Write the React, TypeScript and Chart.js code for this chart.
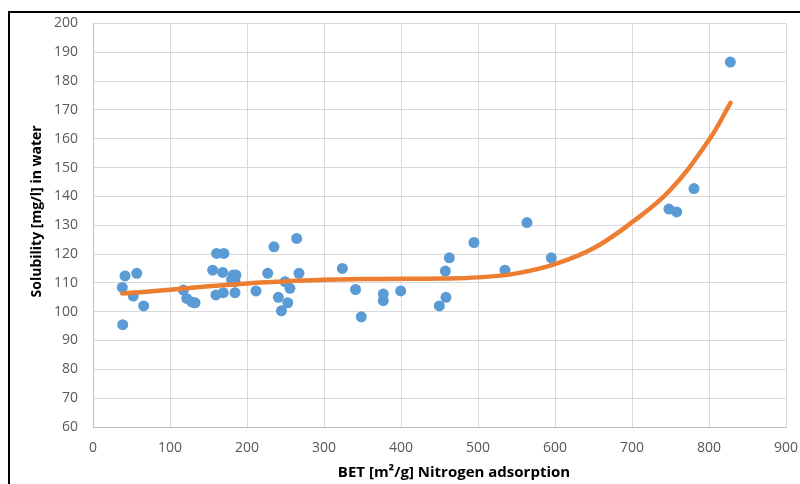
import React, { useEffect, useRef } from "react";
import { Chart, registerables } from "chart.js";

Chart.register(...registerables);

// BET surface area [m²/g] of each sample
const betValues = [
  38.6, 38, 41.6, 52.3, 56.8, 65.8, 117.3, 121.7, 128.2, 132.5,
  155.4, 160.6, 170, 168.4, 159.7, 169.2, 180, 182, 185.7, 184.4,
  184.4, 211.7, 226.9, 235, 240.7, 244.7, 249.4, 252.9, 255.8, 264.5,
  267.5, 323.8, 341, 348.4, 377, 377, 399.6, 449.8, 458.4, 457.6,
  462.8, 494.8, 535, 563.6, 595.2, 748, 758, 780.5, 827.7,
];
// Solubility [mg/l] in water of each sample
const solubilityValues = [
  95.5, 108.4, 112.4, 105.4, 113.3, 102, 107.5, 104.6, 103.4, 103.1,
  114.4, 120.2, 120.2, 113.6, 105.8, 106.6, 111.2, 112.7, 112.7, 110.4,
  106.6, 107.2, 113.3, 122.5, 105, 100.3, 110.4, 103.1, 108.1, 125.4,
  113.3, 115, 107.7, 98.2, 106.1, 103.8, 107.2, 102, 105, 114.1,
  118.7, 124, 114.4, 130.9, 118.7, 135.6, 134.6, 142.7, 186.6,
];
// Trend line
const trendX = [38, 100, 150, 200, 250, 300, 350, 400, 450, 500, 550, 600, 650, 700, 750, 800, 828];
const trendY = [106.3, 107.6, 108.8, 109.8, 110.5, 111.1, 111.3, 111.4, 111.5, 111.9, 113.3, 116.5, 122, 131, 142.3, 159.6, 172.4];

const xTicks = [0, 100, 200, 300, 400, 500, 600, 700, 800, 900];
const yTicks = [60, 70, 80, 90, 100, 110, 120, 130, 140, 150, 160, 170, 180, 190, 200];

const xTitle = "BET [m²/g] Nitrogen adsorption";
const yTitle = "Solubility [mg/l] in water";

const FONT = "'Open Sans', sans-serif";

const titlePlugin = {
  id: "axisTitlesCustom",
  afterDraw(chart: any) {
    const { ctx, chartArea } = chart;
    ctx.save();
    ctx.fillStyle = "#000000";
    ctx.textAlign = "center";
    ctx.textBaseline = "middle";
    ctx.font = `bold 15px ${FONT}`;
    ctx.fillText(xTitle, chartArea.left + 361, chartArea.bottom + 46);
    ctx.font = `bold 14px ${FONT}`;
    ctx.translate(chartArea.left - 56, chartArea.top + 188);
    ctx.rotate(-Math.PI / 2);
    ctx.fillText(yTitle, 0, 0);
    ctx.restore();
  },
};

export default function App() {
  const ref = useRef<HTMLCanvasElement | null>(null);

  useEffect(() => {
    if (!ref.current) return;
    const chart = new Chart(ref.current, {
      type: "scatter",
      data: {
        datasets: [
          {
            label: "Trend",
            data: trendX.map((x, i) => ({ x, y: trendY[i] })),
            showLine: true,
            borderColor: "#ED7D31",
            backgroundColor: "#ED7D31",
            borderWidth: 4.5,
            pointRadius: 0,
            tension: 0.4,
            borderCapStyle: "round",
            order: 0,
          },
          {
            label: "Samples",
            data: betValues.map((x, i) => ({ x, y: solubilityValues[i] })),
            backgroundColor: "#5B9BD5",
            borderColor: "#5B9BD5",
            borderWidth: 0,
            pointRadius: 5.5,
            order: 1,
          },
        ],
      },
      options: {
        responsive: false,
        animation: false,
        layout: { padding: { left: 0, right: 0, top: 23, bottom: 0 } },
        plugins: { legend: { display: false }, tooltip: { enabled: false } },
        scales: {
          x: {
            type: "linear",
            min: 0,
            max: 900,
            afterBuildTicks: (s: any) => {
              s.ticks = xTicks.map((v) => ({ value: v }));
            },
            afterFit: (s: any) => {
              s.height = 57;
              s.paddingLeft = 0;
              s.paddingRight = 14;
            },
            grid: { color: "#d9d9d9", lineWidth: 1, drawTicks: false },
            border: { display: true, color: "#bfbfbf", width: 1 },
            ticks: {
              color: "#595959",
              font: { family: FONT, size: 14 },
              padding: 13,
              maxRotation: 0,
            },
          },
          y: {
            type: "linear",
            min: 60,
            max: 200,
            afterBuildTicks: (s: any) => {
              s.ticks = yTicks.map((v) => ({ value: v }));
            },
            afterFit: (s: any) => {
              s.width = 93;
            },
            grid: { color: "#d9d9d9", lineWidth: 1, drawTicks: false },
            border: { display: true, color: "#bfbfbf", width: 1 },
            ticks: {
              color: "#595959",
              font: { family: FONT, size: 14 },
              padding: 15,
            },
          },
        },
      },
      plugins: [titlePlugin],
    } as any);
    return () => chart.destroy();
  }, []);

  return (
    <>
      <div
        style={{
          position: "fixed",
          left: 8,
          top: 11,
          width: 820,
          height: 500,
          borderLeft: "2px solid #000",
          borderTop: "2px solid #000",
          boxSizing: "border-box",
        }}
      />
      <canvas
        ref={ref}
        width={800}
        height={484}
        style={{ position: "fixed", left: 0, top: 0, width: 800, height: 484 }}
      />
    </>
  );
}
